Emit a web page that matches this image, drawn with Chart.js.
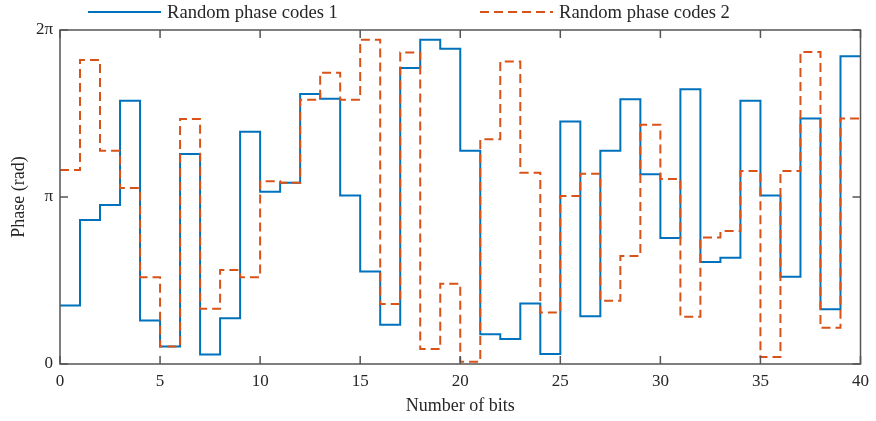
<!DOCTYPE html>
<html>
<head>
<meta charset="utf-8">
<script src="https://cdn.jsdelivr.net/npm/chart.js@4/dist/chart.umd.min.js"></script>
<style>
  html, body { margin: 0; padding: 0; background: #fff; }
  #wrap { width: 876px; height: 421px; position: relative; }
</style>
</head>
<body>
<div id="wrap"><canvas id="chartPhase"></canvas></div>
<script>
// ── Datos: fase (rad) de cada bit ──────────
const BITS = [0,1,2,3,4,5,6,7,8,9,10,11,12,13,14,15,16,17,18,19,
              20,21,22,23,24,25,26,27,28,29,30,31,32,33,34,35,36,37,38,39];

const PHASE_1 = [1.10, 2.71, 2.99, 4.95, 0.82, 0.33, 3.95, 0.18, 0.86, 4.37,
                 3.24, 3.41, 5.08, 4.99, 3.17, 1.74, 0.74, 5.57, 6.10, 5.93,
                 4.01, 0.56, 0.47, 1.14, 0.19, 4.56, 0.90, 4.01, 4.98, 3.57,
                 2.37, 5.17, 1.92, 2.00, 4.95, 3.17, 1.64, 4.62, 1.03, 5.79];

const PHASE_2 = [3.65, 5.72, 4.01, 3.31, 1.63, 0.33, 4.61, 1.04, 1.77, 1.63,
                 3.44, 3.41, 4.97, 5.48, 4.97, 6.10, 1.13, 5.86, 0.28, 1.51,
                 0.04, 4.23, 5.69, 3.60, 0.97, 3.16, 3.58, 1.19, 2.03, 4.50,
                 3.48, 0.89, 2.38, 2.50, 3.63, 0.13, 3.63, 5.87, 0.68, 4.62];

const SERIES_LABELS = ['Random phase codes 1', 'Random phase codes 2'];
const SERIES_COLORS = ['#0072BD', '#D95319'];

const X_TICKS = [0, 5, 10, 15, 20, 25, 30, 35, 40];
const Y_TICKS = [0, Math.PI, 2 * Math.PI];
const Y_TICK_LABELS = ['0', 'π', '2π'];

const FONT = '"Liberation Serif", "Times New Roman", serif';
const AXIS_COLOR = '#262626';

// escalera estilo stairs: el último valor se mantiene hasta el bit 40
const toStairs = vals => {
  const pts = BITS.map((b, i) => ({ x: b, y: vals[i] }));
  pts.push({ x: BITS.at(-1) + 1, y: vals.at(-1) });
  return pts;
};

// ── Marco con ticks hacia dentro (caja completa) ──
const boxFrame = {
  id: 'boxFrame',
  afterDatasetsDraw(chart) {
    const { ctx, chartArea: a, scales: { x, y } } = chart;
    const len = 8;
    ctx.save();
    ctx.strokeStyle = '#555';
    ctx.lineWidth = 1.5;
    ctx.strokeRect(a.left, a.top, a.right - a.left, a.bottom - a.top);
    ctx.beginPath();
    X_TICKS.forEach(v => {
      const px = x.getPixelForValue(v);
      ctx.moveTo(px, a.bottom); ctx.lineTo(px, a.bottom - len);
      ctx.moveTo(px, a.top);    ctx.lineTo(px, a.top + len);
    });
    Y_TICKS.forEach(v => {
      const py = y.getPixelForValue(v);
      ctx.moveTo(a.left, py);  ctx.lineTo(a.left + len, py);
      ctx.moveTo(a.right, py); ctx.lineTo(a.right - len, py);
    });
    ctx.stroke();
    ctx.restore();
  }
};

// ── Leyenda en dos columnas sobre el área del gráfico ──
const topLegend = {
  id: 'topLegend',
  afterDraw(chart) {
    const { ctx, chartArea: a } = chart;
    const colW = 392, lineW = 73, yMid = 12;
    ctx.save();
    ctx.font = '18.6px ' + FONT;
    ctx.textBaseline = 'middle';
    chart.data.datasets.forEach((ds, i) => {
      const x0 = a.left + 28 + i * colW;
      ctx.strokeStyle = ds.borderColor;
      ctx.lineWidth = ds.borderWidth;
      ctx.setLineDash(ds.borderDash || []);
      ctx.beginPath();
      ctx.moveTo(x0, yMid); ctx.lineTo(x0 + lineW, yMid);
      ctx.stroke();
      ctx.setLineDash([]);
      ctx.fillStyle = AXIS_COLOR;
      ctx.fillText(ds.label, x0 + lineW + 6, yMid + 1);
    });
    ctx.restore();
  }
};

new Chart(document.getElementById('chartPhase'), {
  type: 'line',
  data: {
    datasets: [
      {
        label: SERIES_LABELS[0],
        data: toStairs(PHASE_1),
        borderColor: SERIES_COLORS[0],
        borderWidth: 2,
        stepped: 'before',
        pointRadius: 0,
        fill: false,
        order: 1
      },
      {
        label: SERIES_LABELS[1],
        data: toStairs(PHASE_2),
        borderColor: SERIES_COLORS[1],
        borderWidth: 2,
        borderDash: [9, 5],
        stepped: 'before',
        pointRadius: 0,
        fill: false,
        order: 0   // la serie discontinua queda encima
      }
    ]
  },
  options: {
    responsive: true,
    maintainAspectRatio: false,
    animation: false,
    layout: { padding: { top: 30, right: 9, left: 0, bottom: 0 } },
    plugins: {
      legend: { display: false },
      tooltip: { enabled: false }
    },
    scales: {
      x: {
        type: 'linear',
        min: 0,
        max: 40,
        afterBuildTicks: s => { s.ticks = X_TICKS.map(v => ({ value: v })); },
        afterFit: s => { s.height = 57; },
        grid: { display: false, drawTicks: false },
        border: { display: false },
        ticks: {
          color: AXIS_COLOR,
          font: { family: FONT, size: 17 },
          padding: 7,
          maxRotation: 0
        },
        title: {
          display: true,
          text: 'Number of bits',
          color: AXIS_COLOR,
          font: { family: FONT, size: 18 },
          padding: { top: 0, bottom: 4 }
        }
      },
      y: {
        min: 0,
        max: 2 * Math.PI,
        afterBuildTicks: s => { s.ticks = Y_TICKS.map(v => ({ value: v })); },
        afterFit: s => { s.width = 60; },
        grid: { display: false, drawTicks: false },
        border: { display: false },
        ticks: {
          color: AXIS_COLOR,
          font: { family: FONT, size: 17 },
          padding: 7,
          callback: (v, i) => Y_TICK_LABELS[i]
        },
        title: {
          display: true,
          text: 'Phase (rad)',
          color: AXIS_COLOR,
          font: { family: FONT, size: 18 },
          padding: { top: 8, bottom: 0 }
        }
      }
    }
  },
  plugins: [boxFrame, topLegend]
});
</script>
</body>
</html>
